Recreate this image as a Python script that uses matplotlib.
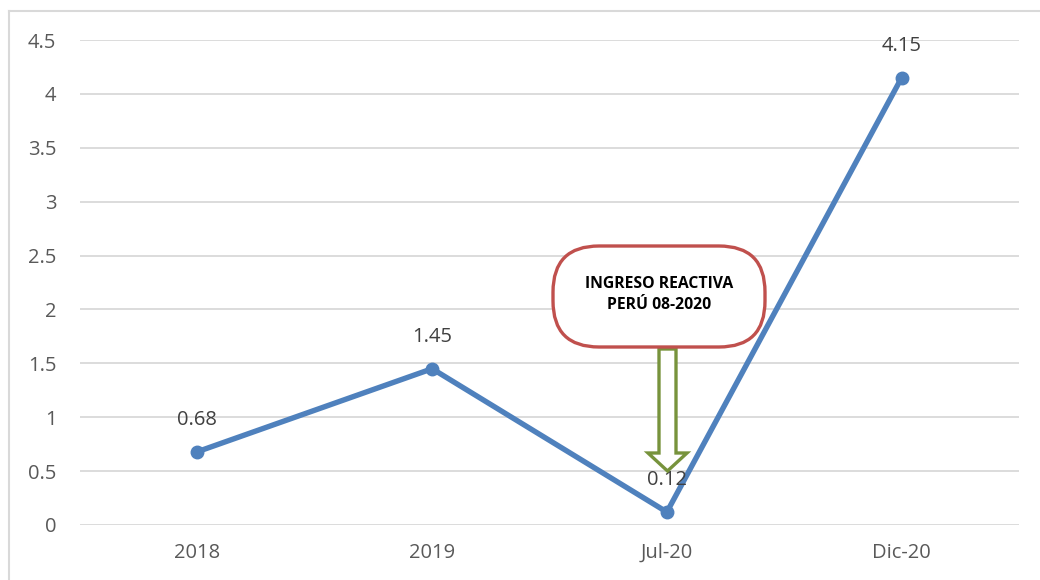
import matplotlib
matplotlib.use("Agg")
import matplotlib.pyplot as plt
from matplotlib.patches import FancyBboxPatch, Polygon
from matplotlib.lines import Line2D

categories = ["2018", "2019", "Jul-20", "Dic-20"]
values = [0.68, 1.45, 0.12, 4.15]
yticks = [0, 0.5, 1, 1.5, 2, 2.5, 3, 3.5, 4, 4.5]
ytick_labels = ["0", "0.5", "1", "1.5", "2", "2.5", "3", "3.5", "4", "4.5"]
callout_text = "INGRESO REACTIVA\nPERÚ 08-2020"

W, H, DPI = 1040, 580, 100
plt.rcParams['font.family'] = ['Open Sans', 'DejaVu Sans']
fig = plt.figure(figsize=(W / DPI, H / DPI), dpi=DPI)
fig.patch.set_facecolor("white")

ax = fig.add_axes([80 / W, 1 - 525 / H, (1019 - 80) / W, (525 - 40) / H])
x = list(range(len(categories)))
ax.set_xlim(-0.5, len(categories) - 0.5)
ax.set_ylim(0, 4.5)
ax.set_yticks(yticks)
ax.set_yticklabels(ytick_labels)
ax.set_xticks(x)
ax.set_xticklabels(categories)
ax.tick_params(axis="both", length=0, colors="#595959", labelsize=14.5)
ax.tick_params(axis="y", pad=17)
ax.tick_params(axis="x", pad=13)
for s in ax.spines.values():
    s.set_visible(False)
ax.grid(axis="y", color="#D9D9D9", linewidth=1.3)
ax.set_axisbelow(True)

ax.plot(x, values, color="#4F81BD", linewidth=3.9, marker="o", markersize=9,
        solid_capstyle="round", zorder=3)
for xi, v in zip(x, values):
    ax.annotate(f"{v:.2f}", (xi, v), xytext=(0, 23), textcoords="offset points",
                ha="center", va="center", fontsize=14.5, color="#404040", zorder=5)

# chart border (top and left edges)
fig.add_artist(Line2D([9 / W, 1.0], [1 - 11 / H, 1 - 11 / H], transform=fig.transFigure,
                      color="#D9D9D9", linewidth=1.5))
fig.add_artist(Line2D([9 / W, 9 / W], [0, 1 - 11 / H], transform=fig.transFigure,
                      color="#D9D9D9", linewidth=1.5))

# callout in pixel units (inches transform)
tr = fig.dpi_scale_trans
def px(xp, yp):
    return (xp / DPI, (H - yp) / DPI)

bx0, by0, bx1, by1 = 553, 246, 765, 347
r = 46
box = FancyBboxPatch(px(bx0 + r, by1 - r),
                     (bx1 - bx0 - 2 * r) / DPI, (by1 - by0 - 2 * r) / DPI,
                     boxstyle=f"round,pad={r / DPI},rounding_size={r / DPI}",
                     transform=tr, facecolor="white", edgecolor="#C0504D",
                     linewidth=2.4, zorder=6)
fig.add_artist(box)
cx, cy = (bx0 + bx1) / 2, (by0 + by1) / 2
fig.text(*px(cx, cy - 2), callout_text, transform=tr, ha="center", va="center",
         fontsize=11.3, fontweight="bold", color="black", linespacing=1.45, zorder=7)

# hollow down arrow
sx0, sx1, sy0, hy, hx0, hx1, ty = 659, 676, 349, 453, 648, 687, 471
arrow_pts = [px(sx0, sy0), px(sx1, sy0), px(sx1, hy), px(hx1, hy), px((sx0 + sx1) / 2, ty),
             px(hx0, hy), px(sx0, hy)]
arr = Polygon(arrow_pts, closed=True, transform=tr, facecolor="white",
              edgecolor="#77933C", linewidth=2.4, joinstyle="miter", zorder=4)
fig.add_artist(arr)

fig.savefig("out.png", dpi=DPI)
